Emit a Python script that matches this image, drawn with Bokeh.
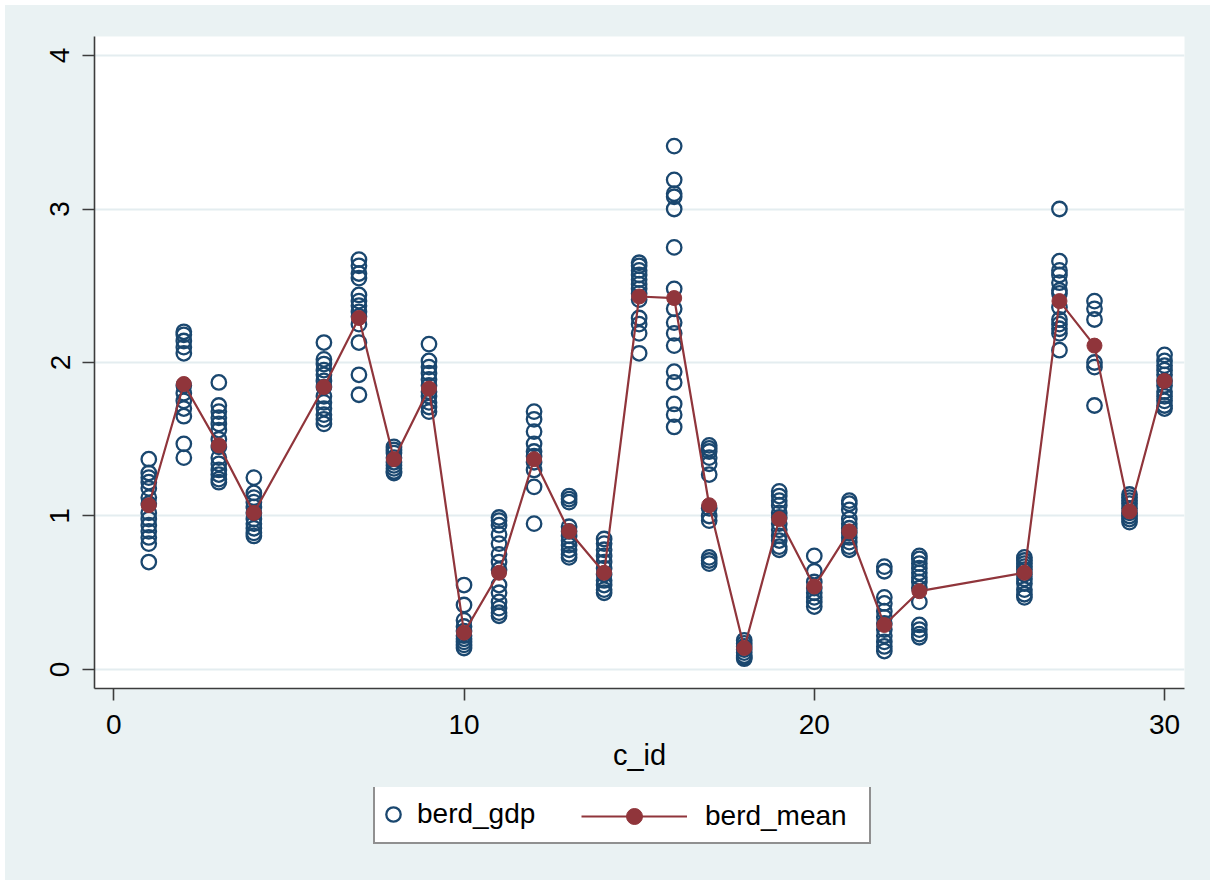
from bokeh.plotting import figure
from bokeh.layouts import column
from bokeh.models import Range1d, FixedTicker, Legend, LegendItem
from bokeh.embed import file_html
from bokeh.resources import INLINE

# ---- data ----
c_id = [1, 2, 3, 4, 6, 7, 8, 9, 10, 11, 12, 13, 14, 15, 16, 17, 18, 19, 20,
        21, 22, 23, 26, 27, 28, 29, 30]
berd_mean = [1.07, 1.86, 1.46, 1.02, 1.84, 2.29, 1.37, 1.83, 0.24, 0.63, 1.37,
             0.90, 0.63, 2.43, 2.42, 1.07, 0.14, 0.98, 0.54, 0.90, 0.29, 0.51,
             0.63, 2.40, 2.11, 1.03, 1.88]

gdp_01 = [1.37, 1.28, 1.25, 1.22, 1.18, 1.12, 1.08, 1.02, 0.98, 0.94, 0.90, 0.86, 0.82, 0.70]
gdp_02 = [2.20, 2.18, 2.14, 2.10, 2.06, 1.85, 1.80, 1.75, 1.70, 1.65, 1.47, 1.38]
gdp_03 = [1.87, 1.72, 1.68, 1.64, 1.60, 1.56, 1.50, 1.45, 1.38, 1.34, 1.30, 1.27, 1.24, 1.22]
gdp_04 = [1.25, 1.15, 1.12, 1.09, 1.06, 1.02, 0.98, 0.95, 0.92, 0.89, 0.87]
gdp_06 = [2.13, 2.02, 1.99, 1.95, 1.92, 1.88, 1.84, 1.78, 1.74, 1.70, 1.66, 1.63, 1.60]
gdp_07 = [2.67, 2.63, 2.58, 2.55, 2.44, 2.40, 2.37, 2.33, 2.30, 2.25, 2.13, 1.92, 1.79]
gdp_08 = [1.45, 1.43, 1.41, 1.38, 1.35, 1.33, 1.31, 1.29, 1.28]
gdp_09 = [2.12, 2.01, 1.97, 1.93, 1.89, 1.85, 1.81, 1.78, 1.74, 1.71, 1.68]
gdp_10 = [0.55, 0.42, 0.32, 0.28, 0.25, 0.22, 0.20, 0.18, 0.16, 0.14]
gdp_11 = [0.99, 0.97, 0.94, 0.88, 0.82, 0.75, 0.70, 0.65, 0.55, 0.50, 0.44, 0.40, 0.37, 0.35]
gdp_12 = [1.68, 1.63, 1.55, 1.47, 1.42, 1.39, 1.35, 1.30, 1.19, 0.95]
gdp_13 = [1.13, 1.11, 1.09, 0.93, 0.90, 0.87, 0.84, 0.81, 0.78, 0.75, 0.73]
gdp_14 = [0.85, 0.82, 0.78, 0.74, 0.70, 0.66, 0.62, 0.58, 0.55, 0.52, 0.50]
gdp_15 = [2.65, 2.63, 2.60, 2.57, 2.54, 2.51, 2.48, 2.45, 2.41, 2.29, 2.25, 2.19, 2.06]
gdp_16 = [3.41, 3.19, 3.10, 3.08, 3.00, 2.75, 2.48, 2.35, 2.26, 2.19, 2.11, 1.94, 1.87, 1.73, 1.66, 1.58]
gdp_17 = [1.46, 1.44, 1.42, 1.38, 1.34, 1.27, 1.05, 1.00, 0.97, 0.73, 0.71, 0.69]
gdp_18 = [0.19, 0.17, 0.15, 0.13, 0.11, 0.09, 0.08, 0.07]
gdp_19 = [1.16, 1.13, 1.10, 1.07, 1.02, 0.99, 0.95, 0.91, 0.87, 0.84, 0.80, 0.78]
gdp_20 = [0.74, 0.64, 0.57, 0.53, 0.50, 0.47, 0.44, 0.41]
gdp_21 = [1.10, 1.08, 1.04, 0.98, 0.95, 0.92, 0.89, 0.86, 0.83, 0.80, 0.78]
gdp_22 = [0.67, 0.64, 0.47, 0.43, 0.38, 0.34, 0.30, 0.26, 0.22, 0.18, 0.15, 0.12]
gdp_23 = [0.74, 0.72, 0.69, 0.66, 0.63, 0.60, 0.57, 0.53, 0.44, 0.29, 0.26, 0.23, 0.21]
gdp_26 = [0.73, 0.71, 0.69, 0.67, 0.65, 0.62, 0.59, 0.56, 0.52, 0.49, 0.47]
gdp_27 = [3.00, 2.66, 2.60, 2.57, 2.52, 2.47, 2.45, 2.36, 2.28, 2.25, 2.22, 2.19, 2.08]
gdp_28 = [2.40, 2.35, 2.28, 2.00, 1.97, 1.72]
gdp_29 = [1.14, 1.12, 1.10, 1.08, 1.05, 1.02, 1.00, 0.98, 0.96]
gdp_30 = [2.05, 2.01, 1.98, 1.95, 1.92, 1.88, 1.85, 1.81, 1.78, 1.75, 1.72, 1.70]

groups = [gdp_01, gdp_02, gdp_03, gdp_04, gdp_06, gdp_07, gdp_08, gdp_09, gdp_10,
          gdp_11, gdp_12, gdp_13, gdp_14, gdp_15, gdp_16, gdp_17, gdp_18, gdp_19,
          gdp_20, gdp_21, gdp_22, gdp_23, gdp_26, gdp_27, gdp_28, gdp_29, gdp_30]

x_ticks = [0, 10, 20, 30]
y_ticks = [0, 1, 2, 3, 4]

obs_x, obs_y = [], []
for cid, vals in zip(c_id, groups):
    obs_x += [cid] * len(vals)
    obs_y += vals

NAVY = "#1a476f"
MAROON = "#90353b"
BG = "#eaf2f3"
FONT = "Liberation Sans"
W = 1205

obs_style = dict(marker="circle", size=14.5, fill_color=None, line_color=NAVY, line_width=2.3)
line_style = dict(line_color=MAROON, line_width=2.2)
mean_style = dict(marker="circle", size=15, fill_color=MAROON, line_color=MAROON, line_width=1)

# ---- main plot ----
p = figure(width=W, height=782, output_backend="svg", toolbar_location=None,
           x_range=Range1d(-0.55, 30.57), y_range=Range1d(-0.124, 4.124),
           min_border_left=89, min_border_right=26, min_border_top=31,
           min_border_bottom=99)
p.border_fill_color = BG
p.background_fill_color = "white"
p.outline_line_color = None

p.scatter(obs_x, obs_y, **obs_style)
p.line(c_id, berd_mean, **line_style)
p.scatter(c_id, berd_mean, **mean_style)

p.xgrid.visible = False
p.ygrid.ticker = FixedTicker(ticks=y_ticks)
p.ygrid.grid_line_color = "#e4edf0"
p.ygrid.grid_line_width = 2

for ax in (p.xaxis[0], p.yaxis[0]):
    ax.axis_line_color = "#3c3c3c"
    ax.axis_line_width = 1.6
    ax.major_tick_line_color = "#3c3c3c"
    ax.major_tick_line_width = 1.6
    ax.major_tick_out = 12
    ax.major_tick_in = 0
    ax.minor_tick_line_color = None
    ax.major_label_text_font = FONT
    ax.major_label_text_font_size = "28px"
    ax.major_label_text_color = "black"

p.xaxis.ticker = FixedTicker(ticks=x_ticks)
p.yaxis.ticker = FixedTicker(ticks=y_ticks)
p.xaxis.major_label_standoff = 14
p.yaxis.major_label_standoff = 13
p.yaxis.major_label_orientation = "vertical"
p.xaxis.axis_label = "c_id"
p.xaxis.axis_label_text_font = FONT
p.xaxis.axis_label_text_font_size = "29px"
p.xaxis.axis_label_text_font_style = "normal"
p.xaxis.axis_label_text_color = "black"
p.xaxis.axis_label_standoff = 2

# ---- legend strip below ----
q = figure(width=W, height=93, output_backend="svg", toolbar_location=None,
           x_range=Range1d(100, 101), y_range=Range1d(100, 101),
           min_border=0, x_axis_location=None, y_axis_location=None)
q.border_fill_color = BG
q.background_fill_color = None
q.outline_line_color = None
q.grid.visible = False
k_obs = q.scatter(obs_x, obs_y, **obs_style)
k_line = q.line(c_id, berd_mean, **line_style)
k_mean = q.scatter(c_id, berd_mean, **mean_style)

leg_a = Legend(items=[LegendItem(label="berd_gdp", renderers=[k_obs])],
               location=(279, 36), orientation="horizontal",
               padding=0, margin=0, glyph_width=36, glyph_height=56,
               label_standoff=6, label_width=452, label_height=56,
               border_line_color="#222222", border_line_width=2,
               background_fill_color="white", background_fill_alpha=1,
               label_text_font=FONT, label_text_font_size="28px",
               label_text_color="black")
leg_b = Legend(items=[LegendItem(label="berd_mean", renderers=[k_line, k_mean])],
               location=(487, 44), orientation="horizontal",
               padding=0, margin=0, glyph_width=106, glyph_height=40,
               label_standoff=18, label_height=40,
               border_line_color=None, background_fill_alpha=0,
               label_text_font=FONT, label_text_font_size="28px",
               label_text_color="black")
q.add_layout(leg_a, "center")
q.add_layout(leg_b, "center")

layout = column(p, q, spacing=0, margin=(5, 0, 0, 5),
                styles={"background-color": BG})
open("out.html", "w").write(file_html(layout, INLINE))
